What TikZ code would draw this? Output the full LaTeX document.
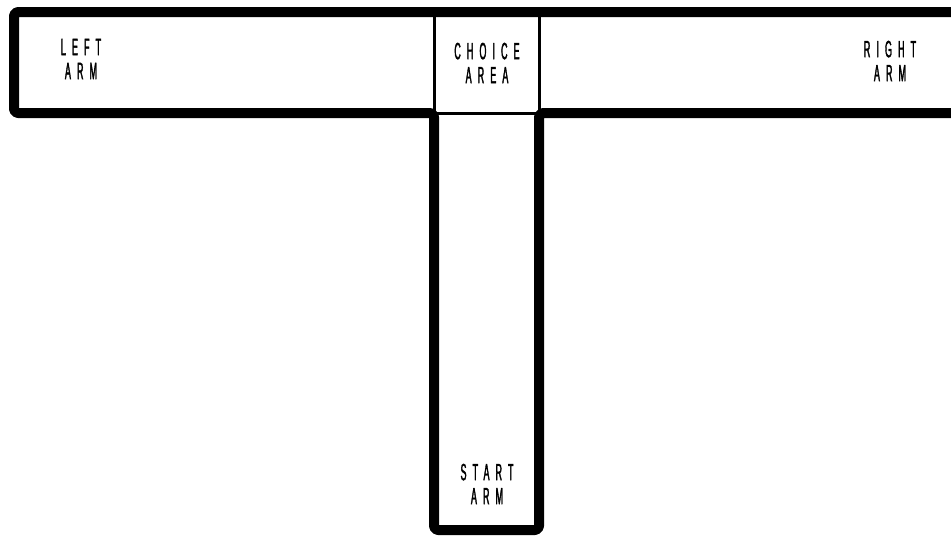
\documentclass[tikz,border=0pt]{standalone}
\usepackage{fontspec}
\newfontfamily\condfont[FakeStretch=0.38,LetterSpace=26,FakeBold=1.5]{Liberation Sans}
\begin{document}
\begin{tikzpicture}[x=1pt,y=-1pt,
  wall/.style={line width=10pt,rounded corners=4pt,line join=round},
  divider/.style={line width=3pt,line cap=round},
  lbl/.style={font=\condfont\fontsize{23.5}{24}\selectfont,align=center,inner sep=0pt}]
\useasboundingbox (0,0) rectangle (951,536);
\fill[white] (0,0) rectangle (951,536);
\draw[wall] (970,12) -- (14,12) -- (14,113) -- (434,113) -- (434,530) -- (539,530) -- (539,113) -- (970,113);
\draw[divider] (434.5,12) -- (434.5,113.5) -- (539.5,113.5) -- (539.5,12);
\node[lbl] (left) at (81,59) {LEFT\\ARM};
\node[lbl] (choice) at (487,63) {CHOICE\\AREA};
\node[lbl] (right) at (890,61) {RIGHT\\ARM};
\node[lbl] (start) at (487,484) {START\\ARM};
\end{tikzpicture}
\end{document}
